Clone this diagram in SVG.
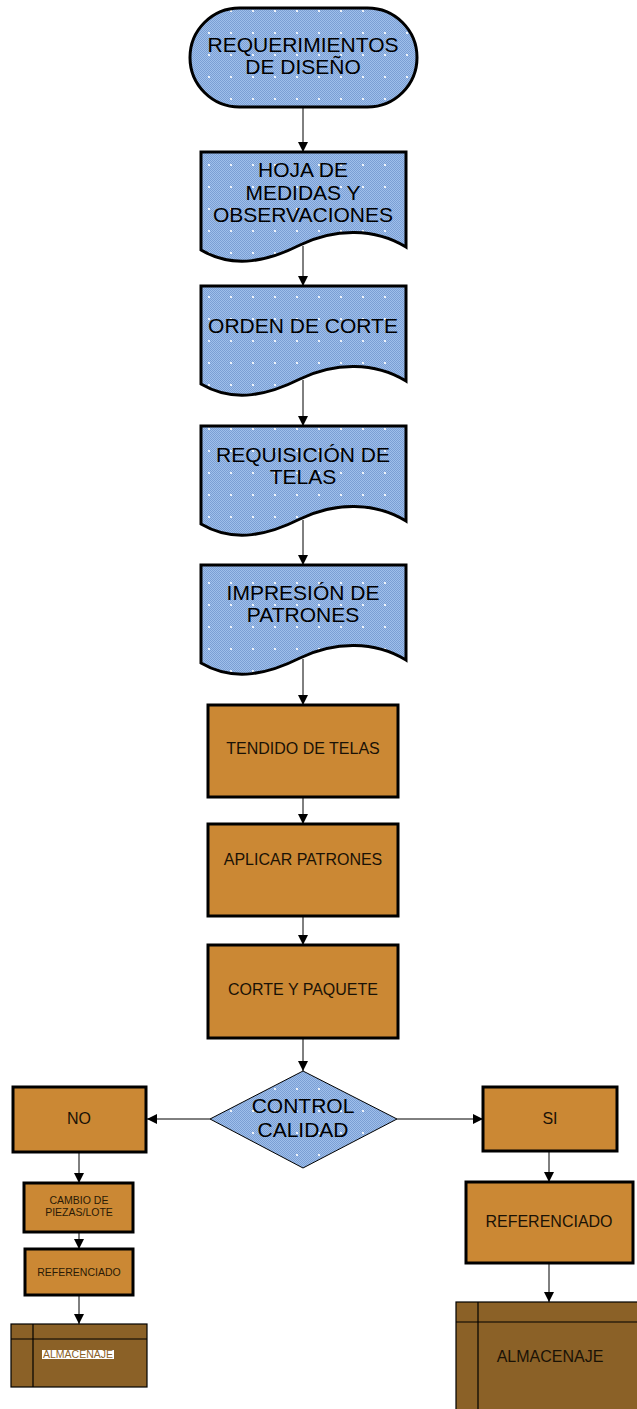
<svg xmlns="http://www.w3.org/2000/svg" width="637" height="1409" viewBox="0 0 637 1409">
  <defs>
    <!-- fine woven blue texture used for terminal, document and decision shapes -->
    <pattern id="weave" width="2" height="2" patternUnits="userSpaceOnUse">
      <rect width="2" height="2" fill="#9fbfeb"/>
      <rect width="1" height="1" fill="#7b9fd4"/>
      <rect x="1" y="1" width="1" height="1" fill="#7b9fd4"/>
    </pattern>
    <pattern id="blueFill" width="22" height="22" patternUnits="userSpaceOnUse">
      <rect width="22" height="22" fill="url(#weave)"/>
      <rect x="10" y="10" width="2" height="2" fill="#ffffff" opacity="0.85"/>
    </pattern>
    <marker id="arrow" viewBox="0 0 10 10" refX="10" refY="5" markerWidth="10" markerHeight="10" markerUnits="userSpaceOnUse" orient="auto">
      <path d="M0,0 L10,5 L0,10 Z" fill="#000"/>
    </marker>
    <style>
      .blue { fill: url(#blueFill); stroke: #000; stroke-width: 3; }
      .dec { fill: url(#blueFill); stroke: #000; stroke-width: 1; }
      .proc { fill: #cb8834; stroke: #000; stroke-width: 3; }
      .store { fill: #8b6127; stroke: #000; stroke-width: 1.2; }
      .inner { stroke: #000; stroke-width: 1.2; fill: none; }
      .big { font-family: "Liberation Sans", Arial, sans-serif; font-size: 21px; fill: #000; text-anchor: middle; }
      .mid { font-family: "Liberation Sans", Arial, sans-serif; font-size: 16px; fill: #1a1206; text-anchor: middle; }
      .small { font-family: "Liberation Sans", Arial, sans-serif; font-size: 10.5px; fill: #2a1a06; text-anchor: middle; }
      .conn line { stroke: #000; stroke-width: 1; marker-end: url(#arrow); }
    </style>
  </defs>

  <rect width="637" height="1409" fill="#ffffff"/>

  <!-- connectors -->
  <g id="connectors" class="conn">
    <line x1="303" y1="107" x2="303" y2="152"/>
    <line x1="303" y1="246" x2="303" y2="286"/>
    <line x1="303" y1="380" x2="303" y2="426"/>
    <line x1="303" y1="520" x2="303" y2="565"/>
    <line x1="303" y1="659" x2="303" y2="705"/>
    <line x1="303" y1="797" x2="303" y2="824"/>
    <line x1="303" y1="916" x2="303" y2="945"/>
    <line x1="303" y1="1038" x2="303" y2="1071"/>
    <line x1="210" y1="1119" x2="147" y2="1119"/>
    <line x1="397" y1="1119" x2="483" y2="1119"/>
    <line x1="79" y1="1152" x2="79" y2="1183"/>
    <line x1="79" y1="1232" x2="79" y2="1249"/>
    <line x1="79" y1="1295" x2="79" y2="1324"/>
    <line x1="549" y1="1151" x2="549" y2="1182"/>
    <line x1="549" y1="1263" x2="549" y2="1302"/>
  </g>

  <!-- start terminal -->
  <g id="requerimientos">
    <rect class="blue" x="190" y="8" width="227" height="99" rx="49.5"/>
    <text class="big" x="303" y="52">REQUERIMIENTOS</text>
    <text class="big" x="303" y="74">DE DISEÑO</text>
  </g>

  <!-- document shapes -->
  <g id="hoja-medidas">
    <path class="blue" d="M201,152 H406 V247 C375,228 335,228 300,245 C270,260 235,270 201,250 Z"/>
    <text class="big" x="303" y="177">HOJA DE</text>
    <text class="big" x="303" y="200">MEDIDAS Y</text>
    <text class="big" x="303" y="222">OBSERVACIONES</text>
  </g>

  <g id="orden-corte">
    <path class="blue" d="M201,286 H406 V381 C375,362 335,362 300,379 C270,394 235,404 201,384 Z"/>
    <text class="big" x="303" y="333">ORDEN DE CORTE</text>
  </g>

  <g id="requisicion-telas">
    <path class="blue" d="M201,426 H406 V521 C375,502 335,502 300,519 C270,534 235,544 201,524 Z"/>
    <text class="big" x="303" y="462">REQUISICIÓN DE</text>
    <text class="big" x="303" y="484">TELAS</text>
  </g>

  <g id="impresion-patrones">
    <path class="blue" d="M201,565 H406 V660 C375,641 335,641 300,658 C270,673 235,683 201,663 Z"/>
    <text class="big" x="303" y="600">IMPRESIÓN DE</text>
    <text class="big" x="303" y="622">PATRONES</text>
  </g>

  <!-- process steps -->
  <g id="tendido-telas">
    <rect class="proc" x="208" y="705" width="190" height="92"/>
    <text class="mid" x="303" y="754">TENDIDO DE TELAS</text>
  </g>

  <g id="aplicar-patrones">
    <rect class="proc" x="208" y="824" width="190" height="92"/>
    <text class="mid" x="303" y="865">APLICAR PATRONES</text>
  </g>

  <g id="corte-paquete">
    <rect class="proc" x="208" y="945" width="190" height="93"/>
    <text class="mid" x="303" y="995">CORTE Y PAQUETE</text>
  </g>

  <!-- decision -->
  <g id="control-calidad">
    <polygon class="dec" points="303,1071 397,1119 303,1168 210,1119"/>
    <text class="big" x="303" y="1113">CONTROL</text>
    <text class="big" x="303" y="1137">CALIDAD</text>
  </g>

  <!-- rejected branch -->
  <g id="no">
    <rect class="proc" x="13" y="1087" width="133" height="65"/>
    <text class="mid" x="79" y="1124">NO</text>
  </g>

  <g id="cambio-piezas">
    <rect class="proc" x="24" y="1183" width="109" height="49"/>
    <text class="small" x="79" y="1204">CAMBIO DE</text>
    <text class="small" x="79" y="1216">PIEZAS/LOTE</text>
  </g>

  <g id="referenciado-no">
    <rect class="proc" x="25" y="1249" width="108" height="46"/>
    <text class="small" x="79" y="1276">REFERENCIADO</text>
  </g>

  <g id="almacenaje-no">
    <rect class="store" x="11" y="1324" width="136" height="63"/>
    <line class="inner" x1="33" y1="1324" x2="33" y2="1387"/>
    <line class="inner" x1="11" y1="1339" x2="147" y2="1339"/>
    <rect x="42" y="1350" width="72" height="9" fill="#ffffff"/>
    <text class="small" x="78" y="1358" style="fill:#8b6127">ALMACENAJE</text>
  </g>

  <!-- accepted branch -->
  <g id="si">
    <rect class="proc" x="483" y="1087" width="134" height="64"/>
    <text class="mid" x="550" y="1124">SI</text>
  </g>

  <g id="referenciado-si">
    <rect class="proc" x="466" y="1182" width="167" height="81"/>
    <text class="mid" x="549" y="1227">REFERENCIADO</text>
  </g>

  <g id="almacenaje-si">
    <rect class="store" x="456" y="1302" width="190" height="120"/>
    <line class="inner" x1="478" y1="1302" x2="478" y2="1409"/>
    <line class="inner" x1="456" y1="1322" x2="637" y2="1322"/>
    <text class="mid" x="550" y="1362">ALMACENAJE</text>
  </g>
</svg>
